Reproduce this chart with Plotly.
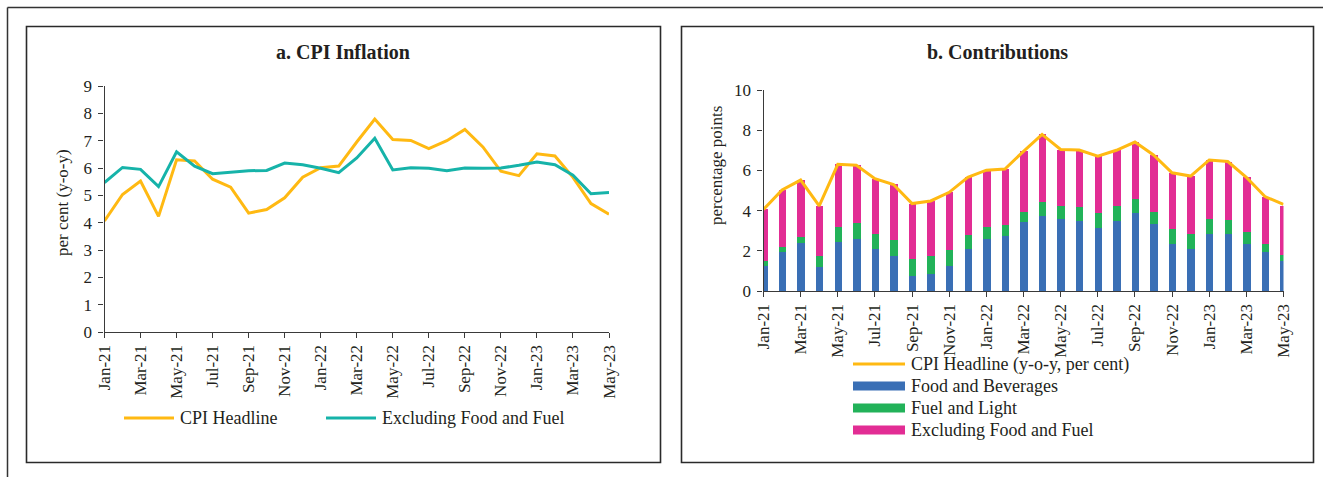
import plotly.graph_objects as go

W, H = 1323, 477

months = ["Jan-21", "Feb-21", "Mar-21", "Apr-21", "May-21", "Jun-21", "Jul-21", "Aug-21",
          "Sep-21", "Oct-21", "Nov-21", "Dec-21", "Jan-22", "Feb-22", "Mar-22", "Apr-22",
          "May-22", "Jun-22", "Jul-22", "Aug-22", "Sep-22", "Oct-22", "Nov-22", "Dec-22",
          "Jan-23", "Feb-23", "Mar-23", "Apr-23", "May-23"]

# CPI headline inflation, y-o-y per cent
cpi_headline = [4.06, 5.03, 5.52, 4.23, 6.30, 6.26, 5.59, 5.30, 4.35, 4.48, 4.91, 5.66,
                6.01, 6.07, 6.95, 7.79, 7.04, 7.01, 6.71, 7.00, 7.41, 6.77, 5.88, 5.72,
                6.52, 6.44, 5.66, 4.70, 4.31]

# CPI excluding food and fuel, y-o-y per cent
cpi_core = [5.47, 6.02, 5.95, 5.32, 6.59, 6.07, 5.79, 5.84, 5.90, 5.91, 6.18, 6.12,
            5.99, 5.83, 6.37, 7.09, 5.93, 6.01, 5.99, 5.90, 6.00, 5.99, 6.00, 6.10,
            6.22, 6.12, 5.74, 5.06, 5.10]

# Contributions to headline inflation, percentage points
contrib_food = [1.25, 1.96, 2.39, 1.20, 2.43, 2.59, 2.08, 1.74, 0.75, 0.86, 1.25, 2.09,
                2.57, 2.72, 3.41, 3.74, 3.60, 3.50, 3.11, 3.50, 3.87, 3.31, 2.36, 2.11,
                2.86, 2.86, 2.36, 1.94, 1.50]
contrib_fuel = [0.23, 0.23, 0.32, 0.53, 0.76, 0.80, 0.78, 0.80, 0.83, 0.90, 0.79, 0.70,
                0.62, 0.57, 0.53, 0.70, 0.65, 0.69, 0.78, 0.72, 0.71, 0.64, 0.71, 0.75,
                0.73, 0.69, 0.60, 0.39, 0.31]
contrib_core = [2.58, 2.84, 2.81, 2.50, 3.11, 2.87, 2.73, 2.76, 2.77, 2.72, 2.87, 2.87,
                2.82, 2.78, 3.01, 3.35, 2.79, 2.82, 2.82, 2.78, 2.83, 2.82, 2.81, 2.86,
                2.93, 2.89, 2.70, 2.37, 2.44]

tick_months = months[::2]

ORANGE = "#FFB912"
TEAL = "#16B3A9"
BLUE = "#3A6FB5"
GREEN = "#22B259"
PINK = "#E22D94"
AXIS = "#3a3a3a"
TEXT = "#231f20"
FONT = "Liberation Serif"

names_left = ["CPI Headline", "Excluding Food and Fuel"]
names_right = ["CPI Headline (y-o-y, per cent)", "Food and Beverages",
               "Fuel and Light", "Excluding Food and Fuel"]


def px(x):
    return x / W


def py(y):
    return 1 - y / H


fig = go.Figure()

# Panel a: CPI inflation lines
fig.add_trace(go.Scatter(x=months, y=cpi_headline, mode="lines", name=names_left[0],
                         line=dict(color=ORANGE, width=3), xaxis="x", yaxis="y",
                         showlegend=False))
fig.add_trace(go.Scatter(x=months, y=cpi_core, mode="lines", name=names_left[1],
                         line=dict(color=TEAL, width=3), xaxis="x", yaxis="y",
                         showlegend=False))

# Panel b: stacked contributions with headline overlay
for vals, col, nm in [(contrib_food, BLUE, names_right[1]),
                      (contrib_fuel, GREEN, names_right[2]),
                      (contrib_core, PINK, names_right[3])]:
    fig.add_trace(go.Bar(x=months, y=vals, name=nm, marker=dict(color=col, line=dict(width=0)),
                         width=0.4, xaxis="x2", yaxis="y2", showlegend=False))
fig.add_trace(go.Scatter(x=months, y=cpi_headline, mode="lines", name=names_right[0],
                         line=dict(color=ORANGE, width=3), xaxis="x2", yaxis="y2",
                         showlegend=False))

axis_common = dict(showgrid=False, zeroline=False, showline=True, linecolor=AXIS,
                   linewidth=1.3, ticks="outside", ticklen=5, tickwidth=1.2,
                   tickcolor=AXIS, automargin=False,
                   tickfont=dict(family=FONT, size=17, color=TEXT))

fig.update_layout(
    template="none",
    width=W, height=H, autosize=False,
    margin=dict(l=0, r=0, t=0, b=0, pad=0, autoexpand=False),
    paper_bgcolor="white", plot_bgcolor="white",
    barmode="stack", bargap=0, showlegend=False,
    font=dict(family=FONT, color=TEXT),
    xaxis=dict(domain=[px(104.5), px(609)], anchor="y", type="category",
               range=[0, len(months) - 1], tickmode="array", tickvals=tick_months,
               ticktext=tick_months, tickangle=-90, **axis_common),
    yaxis=dict(domain=[py(332), py(86)], anchor="x", range=[0, 9], dtick=1,
               ticklabelstandoff=3, **axis_common),
    xaxis2=dict(domain=[px(763.5), px(1283.5)], anchor="y2", type="category",
                range=[0, len(months) - 1], tickmode="array", tickvals=tick_months,
                ticktext=tick_months, tickangle=-90, **axis_common),
    yaxis2=dict(domain=[py(291), py(90)], anchor="x2", range=[0, 10], dtick=2,
                ticklabelstandoff=3, **axis_common),
)

shapes = []
# outer frame (top and left edges) and the two panel boxes
shapes.append(dict(type="line", xref="paper", yref="paper", x0=px(7.5), x1=px(W),
                   y0=py(7.5), y1=py(7.5), line=dict(color="#333", width=1.5)))
shapes.append(dict(type="line", xref="paper", yref="paper", x0=px(7.5), x1=px(7.5),
                   y0=py(7.5), y1=py(H), line=dict(color="#333", width=1.5)))
for x0, x1 in [(26.5, 660.5), (681.5, 1313.5)]:
    shapes.append(dict(type="rect", xref="paper", yref="paper", x0=px(x0), x1=px(x1),
                       y0=py(462.5), y1=py(26.5), line=dict(color="#2a2a2a", width=1.6)))

annotations = []


def text(x, y, s, size=17, angle=0, xanchor="left"):
    annotations.append(dict(x=px(x), y=py(y), xref="paper", yref="paper", text=s,
                            showarrow=False, xanchor=xanchor, yanchor="middle",
                            textangle=angle, borderpad=0,
                            font=dict(family=FONT, size=size, color=TEXT)))


text(343, 52, "<b>a. CPI Inflation</b>", size=20, xanchor="center")
text(997, 52, "<b>b. Contributions</b>", size=20, xanchor="center")
text(62, 203, "per cent (y-o-y)", angle=-90, xanchor="center")
text(716, 166, "percentage points", angle=-90, xanchor="center")

# legend for panel a
for (x0, x1, tx), nm, col in zip([(124, 174, 179), (326, 376, 381)], names_left, [ORANGE, TEAL]):
    shapes.append(dict(type="line", xref="paper", yref="paper", x0=px(x0), x1=px(x1),
                       y0=py(418), y1=py(418), line=dict(color=col, width=3)))
    text(tx, 418, nm, size=18)

# legend for panel b
rows = [364, 386, 408, 430]
for i, (yy, nm) in enumerate(zip(rows, names_right)):
    if i == 0:
        shapes.append(dict(type="line", xref="paper", yref="paper", x0=px(853), x1=px(905),
                           y0=py(yy), y1=py(yy), line=dict(color=ORANGE, width=3)))
    else:
        col = [BLUE, GREEN, PINK][i - 1]
        shapes.append(dict(type="rect", xref="paper", yref="paper", x0=px(853), x1=px(905),
                           y0=py(yy + 4.5), y1=py(yy - 4.5), fillcolor=col,
                           line=dict(width=0)))
    text(910, yy, nm, size=18)

fig.update_layout(shapes=shapes, annotations=annotations)

fig.write_html("out.html",
               post_script="document.body.style.margin='0';"
                           "document.body.style.overflow='hidden';")
